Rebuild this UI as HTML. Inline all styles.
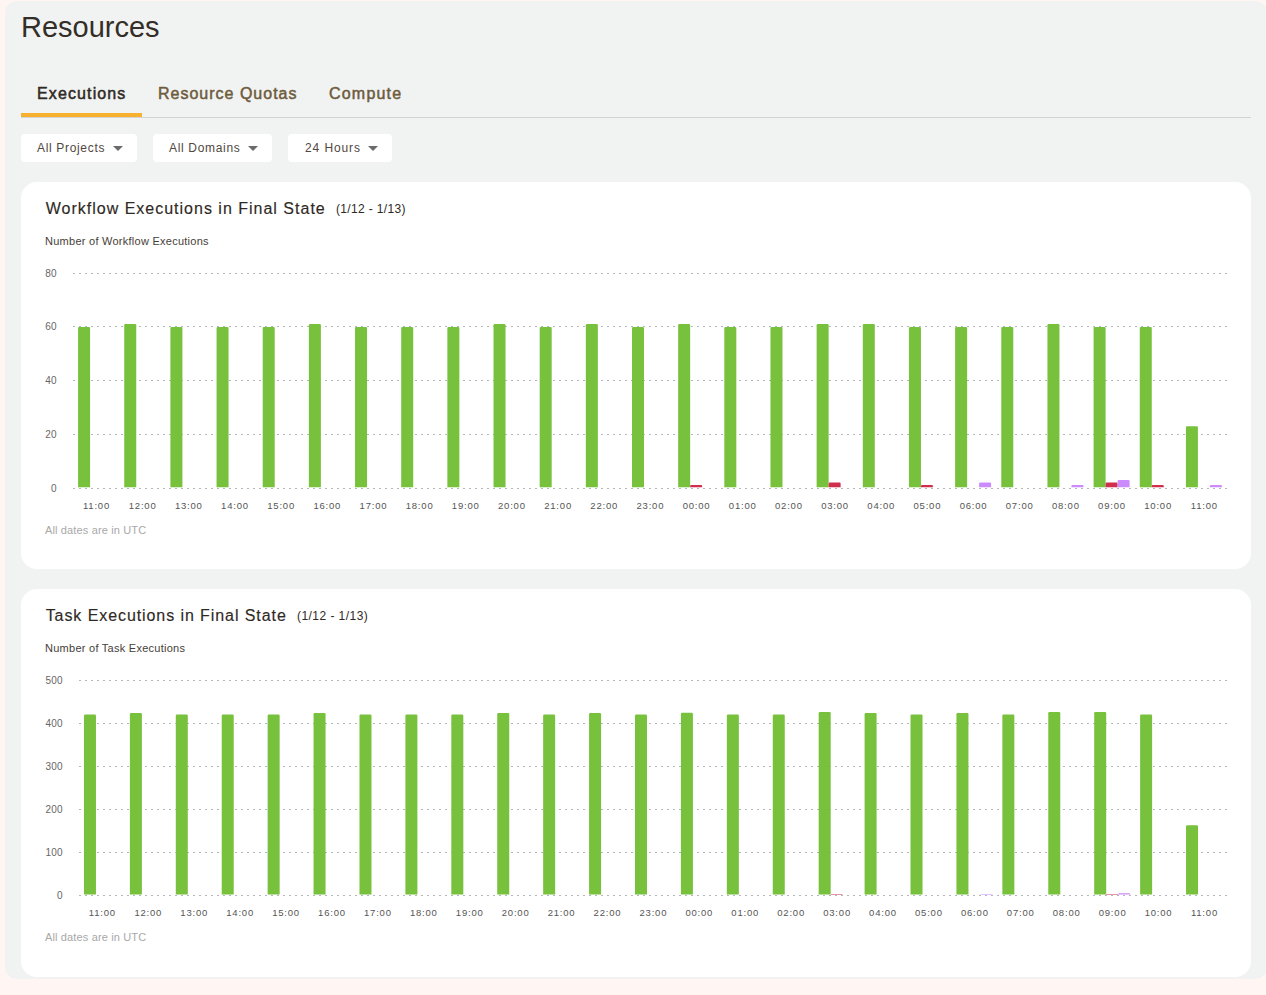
<!DOCTYPE html>
<html><head><meta charset="utf-8"><style>
html,body{margin:0;padding:0;}
body{width:1266px;height:995px;background:#fff5f2;position:relative;overflow:hidden;font-family:"Liberation Sans", sans-serif;color:#2f2924;}
.a{position:absolute;white-space:nowrap;line-height:1;}
#panel{position:absolute;left:5px;top:1px;width:1262px;height:978px;background:#f1f3f2;border-radius:12px;}
.card{position:absolute;left:21px;width:1230px;height:387px;background:#fff;border-radius:16px;}
.btn{position:absolute;top:134px;height:28px;background:#fff;border-radius:4px;}
.btn span{position:absolute;left:16px;top:8px;font-size:12px;letter-spacing:0.67px;color:#51473e;line-height:1;}
.tri{position:absolute;top:12px;width:0;height:0;border-left:5px solid transparent;border-right:5px solid transparent;border-top:5px solid #6b6b6b;}
svg text{font-family:"Liberation Sans", sans-serif;}
.yl{font-size:10px;fill:#666;letter-spacing:0.2px;}
.xl{font-size:9.5px;fill:#555;letter-spacing:0.8px;}
</style></head><body>
<div id="panel"></div>
<div class="a" style="left:21px;top:13px;font-size:29px;color:#342e28;">Resources</div>
<div class="a" style="left:37px;top:86px;font-size:16px;-webkit-text-stroke:0.5px #2f2924;letter-spacing:1.12px;color:#2f2924;">Executions</div>
<div class="a" style="left:158px;top:86px;font-size:16px;-webkit-text-stroke:0.5px #6e5b3d;letter-spacing:1.0px;color:#6e5b3d;">Resource Quotas</div>
<div class="a" style="left:329px;top:86px;font-size:16px;-webkit-text-stroke:0.5px #6e5b3d;letter-spacing:1.2px;color:#6e5b3d;">Compute</div>
<div style="position:absolute;left:21px;top:117px;width:1230px;height:1px;background:#d3d3d3;"></div>
<div style="position:absolute;left:21px;top:113px;width:121px;height:4px;background:#f7b12e;"></div>
<div class="btn" style="left:21px;width:116px;"><span>All Projects</span><div class="tri" style="left:92px;"></div></div>
<div class="btn" style="left:153px;width:119px;"><span>All Domains</span><div class="tri" style="left:95px;"></div></div>
<div class="btn" style="left:288px;width:104px;"><span style="letter-spacing:0.9px;left:17px">24 Hours</span><div class="tri" style="left:80px;"></div></div>
<div class="card" style="top:182px;"></div>
<div class="card" style="top:589px;height:387.5px;"></div>
<div class="a" style="left:45.7px;top:201px;font-size:16px;letter-spacing:1.0px;-webkit-text-stroke:0.15px #2f2924;color:#2f2924;">Workflow Executions in Final State</div>
<div class="a" style="left:336px;top:203px;font-size:12px;letter-spacing:0.35px;color:#2f2924;">(1/12 - 1/13)</div>
<div class="a" style="left:45px;top:236px;font-size:11px;letter-spacing:0.26px;color:#463e37;">Number of Workflow Executions</div>
<div class="a" style="left:45px;top:525px;font-size:11px;letter-spacing:0.14px;color:#a8a8a8;">All dates are in UTC</div>
<div class="a" style="left:45.7px;top:608px;font-size:16px;letter-spacing:0.92px;-webkit-text-stroke:0.15px #2f2924;color:#2f2924;">Task Executions in Final State</div>
<div class="a" style="left:297px;top:610px;font-size:12px;letter-spacing:0.45px;color:#2f2924;">(1/12 - 1/13)</div>
<div class="a" style="left:45px;top:643px;font-size:11px;letter-spacing:0.26px;color:#463e37;">Number of Task Executions</div>
<div class="a" style="left:45px;top:932px;font-size:11px;letter-spacing:0.14px;color:#a8a8a8;">All dates are in UTC</div>
<svg style="position:absolute;left:0;top:0" width="1266" height="995" viewBox="0 0 1266 995">
<line x1="73" y1="273.5" x2="1227" y2="273.5" stroke="#b3b6bd" stroke-width="1" stroke-dasharray="2 4"/>
<text x="56.7" y="276.6" text-anchor="end" class="yl">80</text>
<line x1="73" y1="326.5" x2="1227" y2="326.5" stroke="#b3b6bd" stroke-width="1" stroke-dasharray="2 4"/>
<text x="56.7" y="329.6" text-anchor="end" class="yl">60</text>
<line x1="73" y1="380.5" x2="1227" y2="380.5" stroke="#b3b6bd" stroke-width="1" stroke-dasharray="2 4"/>
<text x="56.7" y="383.6" text-anchor="end" class="yl">40</text>
<line x1="73" y1="434.5" x2="1227" y2="434.5" stroke="#b3b6bd" stroke-width="1" stroke-dasharray="2 4"/>
<text x="56.7" y="437.6" text-anchor="end" class="yl">20</text>
<line x1="73" y1="488.5" x2="1227" y2="488.5" stroke="#b3b6bd" stroke-width="1" stroke-dasharray="2 4"/>
<text x="56.7" y="491.6" text-anchor="end" class="yl">0</text>
<path d="M78.08 487.20V328.10Q78.08 326.90 79.28 326.90H88.88Q90.08 326.90 90.08 328.10V487.20Z" fill="#77c13c"/>
<text x="96.48" y="509" text-anchor="middle" class="xl">11:00</text>
<path d="M124.24 487.20V325.30Q124.24 324.10 125.44 324.10H135.04Q136.24 324.10 136.24 325.30V487.20Z" fill="#77c13c"/>
<text x="142.64" y="509" text-anchor="middle" class="xl">12:00</text>
<path d="M170.40 487.20V328.10Q170.40 326.90 171.60 326.90H181.20Q182.40 326.90 182.40 328.10V487.20Z" fill="#77c13c"/>
<text x="188.80" y="509" text-anchor="middle" class="xl">13:00</text>
<path d="M216.56 487.20V328.10Q216.56 326.90 217.76 326.90H227.36Q228.56 326.90 228.56 328.10V487.20Z" fill="#77c13c"/>
<text x="234.96" y="509" text-anchor="middle" class="xl">14:00</text>
<path d="M262.72 487.20V328.10Q262.72 326.90 263.92 326.90H273.52Q274.72 326.90 274.72 328.10V487.20Z" fill="#77c13c"/>
<text x="281.12" y="509" text-anchor="middle" class="xl">15:00</text>
<path d="M308.88 487.20V325.30Q308.88 324.10 310.08 324.10H319.68Q320.88 324.10 320.88 325.30V487.20Z" fill="#77c13c"/>
<text x="327.28" y="509" text-anchor="middle" class="xl">16:00</text>
<path d="M355.04 487.20V328.10Q355.04 326.90 356.24 326.90H365.84Q367.04 326.90 367.04 328.10V487.20Z" fill="#77c13c"/>
<text x="373.44" y="509" text-anchor="middle" class="xl">17:00</text>
<path d="M401.20 487.20V328.10Q401.20 326.90 402.40 326.90H412.00Q413.20 326.90 413.20 328.10V487.20Z" fill="#77c13c"/>
<text x="419.60" y="509" text-anchor="middle" class="xl">18:00</text>
<path d="M447.36 487.20V328.10Q447.36 326.90 448.56 326.90H458.16Q459.36 326.90 459.36 328.10V487.20Z" fill="#77c13c"/>
<text x="465.76" y="509" text-anchor="middle" class="xl">19:00</text>
<path d="M493.52 487.20V325.30Q493.52 324.10 494.72 324.10H504.32Q505.52 324.10 505.52 325.30V487.20Z" fill="#77c13c"/>
<text x="511.92" y="509" text-anchor="middle" class="xl">20:00</text>
<path d="M539.68 487.20V328.10Q539.68 326.90 540.88 326.90H550.48Q551.68 326.90 551.68 328.10V487.20Z" fill="#77c13c"/>
<text x="558.08" y="509" text-anchor="middle" class="xl">21:00</text>
<path d="M585.84 487.20V325.30Q585.84 324.10 587.04 324.10H596.64Q597.84 324.10 597.84 325.30V487.20Z" fill="#77c13c"/>
<text x="604.24" y="509" text-anchor="middle" class="xl">22:00</text>
<path d="M632.00 487.20V328.10Q632.00 326.90 633.20 326.90H642.80Q644.00 326.90 644.00 328.10V487.20Z" fill="#77c13c"/>
<text x="650.40" y="509" text-anchor="middle" class="xl">23:00</text>
<path d="M678.16 487.20V325.30Q678.16 324.10 679.36 324.10H688.96Q690.16 324.10 690.16 325.30V487.20Z" fill="#77c13c"/>
<path d="M690.16 487.20V486.15Q690.16 485.10 691.21 485.10H701.11Q702.16 485.10 702.16 486.15V487.20Z" fill="#cf2f4c"/>
<text x="696.56" y="509" text-anchor="middle" class="xl">00:00</text>
<path d="M724.32 487.20V328.10Q724.32 326.90 725.52 326.90H735.12Q736.32 326.90 736.32 328.10V487.20Z" fill="#77c13c"/>
<text x="742.72" y="509" text-anchor="middle" class="xl">01:00</text>
<path d="M770.48 487.20V328.10Q770.48 326.90 771.68 326.90H781.28Q782.48 326.90 782.48 328.10V487.20Z" fill="#77c13c"/>
<text x="788.88" y="509" text-anchor="middle" class="xl">02:00</text>
<path d="M816.64 487.20V325.30Q816.64 324.10 817.84 324.10H827.44Q828.64 324.10 828.64 325.30V487.20Z" fill="#77c13c"/>
<path d="M828.64 487.20V483.70Q828.64 482.50 829.84 482.50H839.44Q840.64 482.50 840.64 483.70V487.20Z" fill="#cf2f4c"/>
<text x="835.04" y="509" text-anchor="middle" class="xl">03:00</text>
<path d="M862.80 487.20V325.30Q862.80 324.10 864.00 324.10H873.60Q874.80 324.10 874.80 325.30V487.20Z" fill="#77c13c"/>
<text x="881.20" y="509" text-anchor="middle" class="xl">04:00</text>
<path d="M908.96 487.20V328.10Q908.96 326.90 910.16 326.90H919.76Q920.96 326.90 920.96 328.10V487.20Z" fill="#77c13c"/>
<path d="M920.96 487.20V486.15Q920.96 485.10 922.01 485.10H931.91Q932.96 485.10 932.96 486.15V487.20Z" fill="#cf2f4c"/>
<text x="927.36" y="509" text-anchor="middle" class="xl">05:00</text>
<path d="M955.12 487.20V328.10Q955.12 326.90 956.32 326.90H965.92Q967.12 326.90 967.12 328.10V487.20Z" fill="#77c13c"/>
<path d="M979.12 487.20V483.70Q979.12 482.50 980.32 482.50H989.92Q991.12 482.50 991.12 483.70V487.20Z" fill="#cb8bfc"/>
<text x="973.52" y="509" text-anchor="middle" class="xl">06:00</text>
<path d="M1001.28 487.20V328.10Q1001.28 326.90 1002.48 326.90H1012.08Q1013.28 326.90 1013.28 328.10V487.20Z" fill="#77c13c"/>
<text x="1019.68" y="509" text-anchor="middle" class="xl">07:00</text>
<path d="M1047.44 487.20V325.30Q1047.44 324.10 1048.64 324.10H1058.24Q1059.44 324.10 1059.44 325.30V487.20Z" fill="#77c13c"/>
<path d="M1071.44 487.20V486.15Q1071.44 485.10 1072.49 485.10H1082.39Q1083.44 485.10 1083.44 486.15V487.20Z" fill="#cb8bfc"/>
<text x="1065.84" y="509" text-anchor="middle" class="xl">08:00</text>
<path d="M1093.60 487.20V328.10Q1093.60 326.90 1094.80 326.90H1104.40Q1105.60 326.90 1105.60 328.10V487.20Z" fill="#77c13c"/>
<path d="M1105.60 487.20V483.70Q1105.60 482.50 1106.80 482.50H1116.40Q1117.60 482.50 1117.60 483.70V487.20Z" fill="#cf2f4c"/>
<path d="M1117.60 487.20V481.30Q1117.60 480.10 1118.80 480.10H1128.40Q1129.60 480.10 1129.60 481.30V487.20Z" fill="#cb8bfc"/>
<text x="1112.00" y="509" text-anchor="middle" class="xl">09:00</text>
<path d="M1139.76 487.20V328.10Q1139.76 326.90 1140.96 326.90H1150.56Q1151.76 326.90 1151.76 328.10V487.20Z" fill="#77c13c"/>
<path d="M1151.76 487.20V486.15Q1151.76 485.10 1152.81 485.10H1162.71Q1163.76 485.10 1163.76 486.15V487.20Z" fill="#cf2f4c"/>
<text x="1158.16" y="509" text-anchor="middle" class="xl">10:00</text>
<path d="M1185.92 487.20V427.50Q1185.92 426.30 1187.12 426.30H1196.72Q1197.92 426.30 1197.92 427.50V487.20Z" fill="#77c13c"/>
<path d="M1209.92 487.20V486.15Q1209.92 485.10 1210.97 485.10H1220.87Q1221.92 485.10 1221.92 486.15V487.20Z" fill="#cb8bfc"/>
<text x="1204.32" y="509" text-anchor="middle" class="xl">11:00</text>
<line x1="79" y1="680.5" x2="1227" y2="680.5" stroke="#b3b6bd" stroke-width="1" stroke-dasharray="2 4"/>
<text x="62.7" y="683.6" text-anchor="end" class="yl">500</text>
<line x1="79" y1="723.5" x2="1227" y2="723.5" stroke="#b3b6bd" stroke-width="1" stroke-dasharray="2 4"/>
<text x="62.7" y="726.6" text-anchor="end" class="yl">400</text>
<line x1="79" y1="766.5" x2="1227" y2="766.5" stroke="#b3b6bd" stroke-width="1" stroke-dasharray="2 4"/>
<text x="62.7" y="769.6" text-anchor="end" class="yl">300</text>
<line x1="79" y1="809.5" x2="1227" y2="809.5" stroke="#b3b6bd" stroke-width="1" stroke-dasharray="2 4"/>
<text x="62.7" y="812.6" text-anchor="end" class="yl">200</text>
<line x1="79" y1="852.5" x2="1227" y2="852.5" stroke="#b3b6bd" stroke-width="1" stroke-dasharray="2 4"/>
<text x="62.7" y="855.6" text-anchor="end" class="yl">100</text>
<line x1="79" y1="895.5" x2="1227" y2="895.5" stroke="#b3b6bd" stroke-width="1" stroke-dasharray="2 4"/>
<text x="62.7" y="898.6" text-anchor="end" class="yl">0</text>
<path d="M83.96 894.50V715.70Q83.96 714.50 85.16 714.50H94.76Q95.96 714.50 95.96 715.70V894.50Z" fill="#77c13c"/>
<text x="102.36" y="916" text-anchor="middle" class="xl">11:00</text>
<path d="M129.88 894.50V714.20Q129.88 713.00 131.08 713.00H140.68Q141.88 713.00 141.88 714.20V894.50Z" fill="#77c13c"/>
<text x="148.28" y="916" text-anchor="middle" class="xl">12:00</text>
<path d="M175.80 894.50V715.70Q175.80 714.50 177.00 714.50H186.60Q187.80 714.50 187.80 715.70V894.50Z" fill="#77c13c"/>
<text x="194.20" y="916" text-anchor="middle" class="xl">13:00</text>
<path d="M221.72 894.50V715.70Q221.72 714.50 222.92 714.50H232.52Q233.72 714.50 233.72 715.70V894.50Z" fill="#77c13c"/>
<text x="240.12" y="916" text-anchor="middle" class="xl">14:00</text>
<path d="M267.64 894.50V715.70Q267.64 714.50 268.84 714.50H278.44Q279.64 714.50 279.64 715.70V894.50Z" fill="#77c13c"/>
<text x="286.04" y="916" text-anchor="middle" class="xl">15:00</text>
<path d="M313.56 894.50V714.20Q313.56 713.00 314.76 713.00H324.36Q325.56 713.00 325.56 714.20V894.50Z" fill="#77c13c"/>
<text x="331.96" y="916" text-anchor="middle" class="xl">16:00</text>
<path d="M359.48 894.50V715.70Q359.48 714.50 360.68 714.50H370.28Q371.48 714.50 371.48 715.70V894.50Z" fill="#77c13c"/>
<text x="377.88" y="916" text-anchor="middle" class="xl">17:00</text>
<path d="M405.40 894.50V715.70Q405.40 714.50 406.60 714.50H416.20Q417.40 714.50 417.40 715.70V894.50Z" fill="#77c13c"/>
<text x="423.80" y="916" text-anchor="middle" class="xl">18:00</text>
<path d="M451.32 894.50V715.70Q451.32 714.50 452.52 714.50H462.12Q463.32 714.50 463.32 715.70V894.50Z" fill="#77c13c"/>
<text x="469.72" y="916" text-anchor="middle" class="xl">19:00</text>
<path d="M497.24 894.50V714.20Q497.24 713.00 498.44 713.00H508.04Q509.24 713.00 509.24 714.20V894.50Z" fill="#77c13c"/>
<text x="515.64" y="916" text-anchor="middle" class="xl">20:00</text>
<path d="M543.16 894.50V715.70Q543.16 714.50 544.36 714.50H553.96Q555.16 714.50 555.16 715.70V894.50Z" fill="#77c13c"/>
<text x="561.56" y="916" text-anchor="middle" class="xl">21:00</text>
<path d="M589.08 894.50V714.20Q589.08 713.00 590.28 713.00H599.88Q601.08 713.00 601.08 714.20V894.50Z" fill="#77c13c"/>
<text x="607.48" y="916" text-anchor="middle" class="xl">22:00</text>
<path d="M635.00 894.50V715.70Q635.00 714.50 636.20 714.50H645.80Q647.00 714.50 647.00 715.70V894.50Z" fill="#77c13c"/>
<text x="653.40" y="916" text-anchor="middle" class="xl">23:00</text>
<path d="M680.92 894.50V713.90Q680.92 712.70 682.12 712.70H691.72Q692.92 712.70 692.92 713.90V894.50Z" fill="#77c13c"/>
<text x="699.32" y="916" text-anchor="middle" class="xl">00:00</text>
<path d="M726.84 894.50V715.70Q726.84 714.50 728.04 714.50H737.64Q738.84 714.50 738.84 715.70V894.50Z" fill="#77c13c"/>
<text x="745.24" y="916" text-anchor="middle" class="xl">01:00</text>
<path d="M772.76 894.50V715.70Q772.76 714.50 773.96 714.50H783.56Q784.76 714.50 784.76 715.70V894.50Z" fill="#77c13c"/>
<text x="791.16" y="916" text-anchor="middle" class="xl">02:00</text>
<path d="M818.68 894.50V713.20Q818.68 712.00 819.88 712.00H829.48Q830.68 712.00 830.68 713.20V894.50Z" fill="#77c13c"/>
<path d="M830.68 894.50V894.27Q830.68 894.05 830.91 894.05H842.46Q842.68 894.05 842.68 894.27V894.50Z" fill="#cf2f4c"/>
<text x="837.08" y="916" text-anchor="middle" class="xl">03:00</text>
<path d="M864.60 894.50V714.20Q864.60 713.00 865.80 713.00H875.40Q876.60 713.00 876.60 714.20V894.50Z" fill="#77c13c"/>
<text x="883.00" y="916" text-anchor="middle" class="xl">04:00</text>
<path d="M910.52 894.50V715.70Q910.52 714.50 911.72 714.50H921.32Q922.52 714.50 922.52 715.70V894.50Z" fill="#77c13c"/>
<text x="928.92" y="916" text-anchor="middle" class="xl">05:00</text>
<path d="M956.44 894.50V714.20Q956.44 713.00 957.64 713.00H967.24Q968.44 713.00 968.44 714.20V894.50Z" fill="#77c13c"/>
<path d="M980.44 894.50V894.20Q980.44 893.90 980.74 893.90H992.14Q992.44 893.90 992.44 894.20V894.50Z" fill="#cb8bfc"/>
<text x="974.84" y="916" text-anchor="middle" class="xl">06:00</text>
<path d="M1002.36 894.50V715.70Q1002.36 714.50 1003.56 714.50H1013.16Q1014.36 714.50 1014.36 715.70V894.50Z" fill="#77c13c"/>
<text x="1020.76" y="916" text-anchor="middle" class="xl">07:00</text>
<path d="M1048.28 894.50V713.20Q1048.28 712.00 1049.48 712.00H1059.08Q1060.28 712.00 1060.28 713.20V894.50Z" fill="#77c13c"/>
<text x="1066.68" y="916" text-anchor="middle" class="xl">08:00</text>
<path d="M1094.20 894.50V713.20Q1094.20 712.00 1095.40 712.00H1105.00Q1106.20 712.00 1106.20 713.20V894.50Z" fill="#77c13c"/>
<path d="M1106.20 894.50V894.27Q1106.20 894.05 1106.43 894.05H1117.97Q1118.20 894.05 1118.20 894.27V894.50Z" fill="#cf2f4c"/>
<path d="M1118.20 894.50V893.90Q1118.20 893.30 1118.80 893.30H1129.60Q1130.20 893.30 1130.20 893.90V894.50Z" fill="#cb8bfc"/>
<text x="1112.60" y="916" text-anchor="middle" class="xl">09:00</text>
<path d="M1140.12 894.50V715.70Q1140.12 714.50 1141.32 714.50H1150.92Q1152.12 714.50 1152.12 715.70V894.50Z" fill="#77c13c"/>
<text x="1158.52" y="916" text-anchor="middle" class="xl">10:00</text>
<path d="M1186.04 894.50V826.50Q1186.04 825.30 1187.24 825.30H1196.84Q1198.04 825.30 1198.04 826.50V894.50Z" fill="#77c13c"/>
<text x="1204.44" y="916" text-anchor="middle" class="xl">11:00</text>
</svg>
</body></html>
